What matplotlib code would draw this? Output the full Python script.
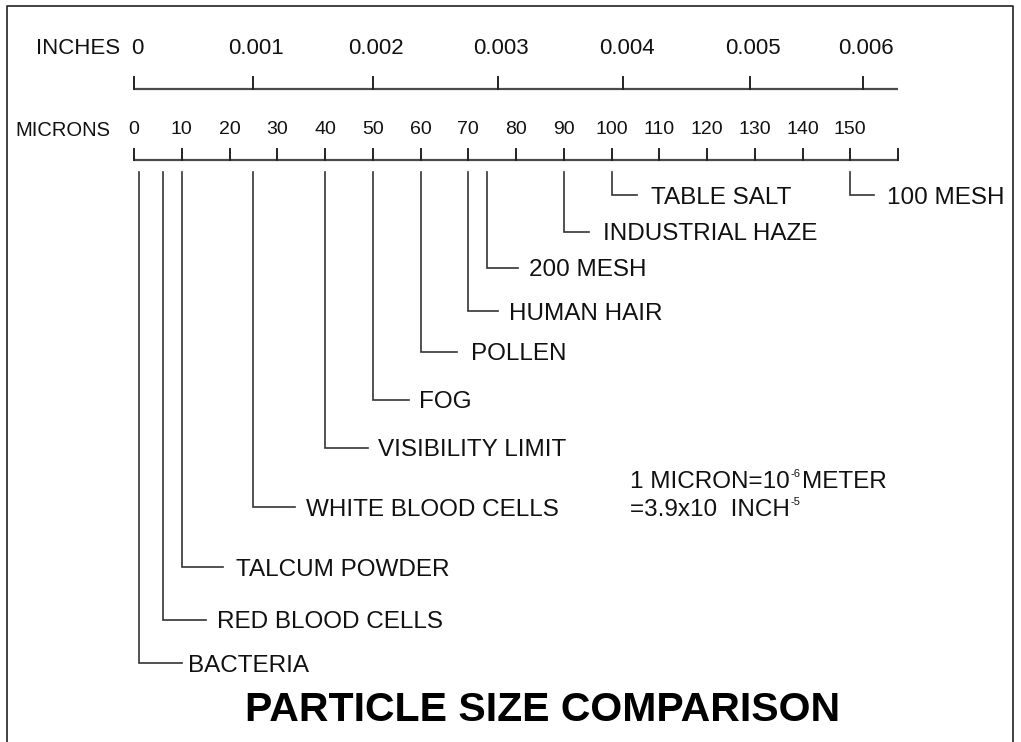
import matplotlib
matplotlib.use("Agg")
import matplotlib.pyplot as plt

plt.rcParams['font.family'] = ['Liberation Sans', 'DejaVu Sans']

# %% Data

micron_ticks = list(range(0, 170, 10))
micron_labels = ['0', '10', '20', '30', '40', '50', '60', '70', '80', '90',
                 '100', '110', '120', '130', '140', '150']
inch_labels = ['0', '0.001', '0.002', '0.003', '0.004', '0.005', '0.006']
inch_pos_um = [0, 25, 50, 76.3, 102.5, 129, 152.6]   # where the inch ticks sit on the micron scale

particles = ['BACTERIA', 'RED BLOOD CELLS', 'TALCUM POWDER', 'WHITE BLOOD CELLS',
             'VISIBILITY LIMIT', 'FOG', 'POLLEN', 'HUMAN HAIR', '200 MESH',
             'INDUSTRIAL HAZE', 'TABLE SALT', '100 MESH']
sizes_um = [1, 6, 10, 25, 40, 50, 60, 70, 74, 90, 100, 150]

# %% Layout (pixels)

W, H = 1021, 742
x0_px, x1_px = 134, 898          # 0 and 160 microns
axis_end = 160
ppu = (x1_px - x0_px) / axis_end  # pixels per micron

row_y = [663, 620, 567, 507, 448, 400, 352, 311, 268, 232, 195, 195]
arm_px = [43, 43, 41, 42, 43, 36, 36, 30, 31, 25, 25, 24]
gap_px = [6, 11, 13, 11, 10, 10, 14, 11, 11, 14, 14, 13]

line_c = '#4a4a4a'
text_c = '#111111'

# %% Figure

fig = plt.figure(figsize=(W / 100, H / 100), dpi=100)
ax = fig.add_axes([0, 0, 1, 1])
ax.set_xlim(-x0_px / ppu, (W - x0_px) / ppu)
ax.set_ylim(H, 0)
ax.axis('off')

# frame
ax.plot([7 / W, 7 / W, 1013 / W, 1013 / W], [0, 1 - 6 / H, 1 - 6 / H, 0],
        transform=ax.transAxes, color='#222222', lw=1.2, clip_on=False)

# inches scale
ax.plot([0, axis_end], [89, 89], color=line_c, lw=1.6, solid_capstyle='butt')
for p, lab in zip(inch_pos_um, inch_labels):
    ax.plot([p, p], [77, 89], color='#222222', lw=1.4)
    ax.text(p + 3 / ppu, 48, lab, ha='center', va='center', fontsize=16, color=text_c)
ax.text(-14 / ppu, 48, 'INCHES', ha='right', va='center', fontsize=16, color=text_c)

# microns scale
ax.plot([0, axis_end], [160, 160], color=line_c, lw=1.6, solid_capstyle='butt')
for t in micron_ticks:
    ax.plot([t, t], [149, 160], color='#222222', lw=1.4)
for t, lab in zip(micron_ticks, micron_labels):
    ax.text(t, 130, lab, ha='center', va='center', fontsize=14, color=text_c)
ax.text(-24 / ppu, 130, 'MICRONS', ha='right', va='center', fontsize=14.5, color=text_c)

# leaders
for name, s, y, arm, gap in zip(particles, sizes_um, row_y, arm_px, gap_px):
    ax.plot([s, s, s + arm / ppu], [172, y, y], color='#333333', lw=1.2,
            solid_joinstyle='miter')
    ax.text(s + (arm + gap) / ppu, y + 8.5, name, ha='left', va='baseline',
            fontsize=17.5, color=text_c)

# conversion note
fig.canvas.draw()
rend = fig.canvas.get_renderer()
inv = ax.transData.inverted()


def put_parts(x, y, parts):
    for txt, sup in parts:
        if sup:
            t = ax.text(x, y - 11, txt, ha='left', va='baseline', fontsize=8, color=text_c)
        else:
            t = ax.text(x, y, txt, ha='left', va='baseline', fontsize=17.5, color=text_c)
        bb = t.get_window_extent(rend)
        x = inv.transform((bb.x1 + 1, 0))[0]


put_parts((630 - x0_px) / ppu, 488, [('1 MICRON=10', False), ('-6', True), ('METER', False)])
put_parts((630 - x0_px) / ppu, 516, [('=3.9x10  INCH', False), ('-5', True)])

# title
ax.text((543 - x0_px) / ppu, 710, 'PARTICLE SIZE COMPARISON', ha='center', va='center',
        fontsize=29.5, fontweight='bold', color='black')

fig.savefig('out.png', dpi=100)
